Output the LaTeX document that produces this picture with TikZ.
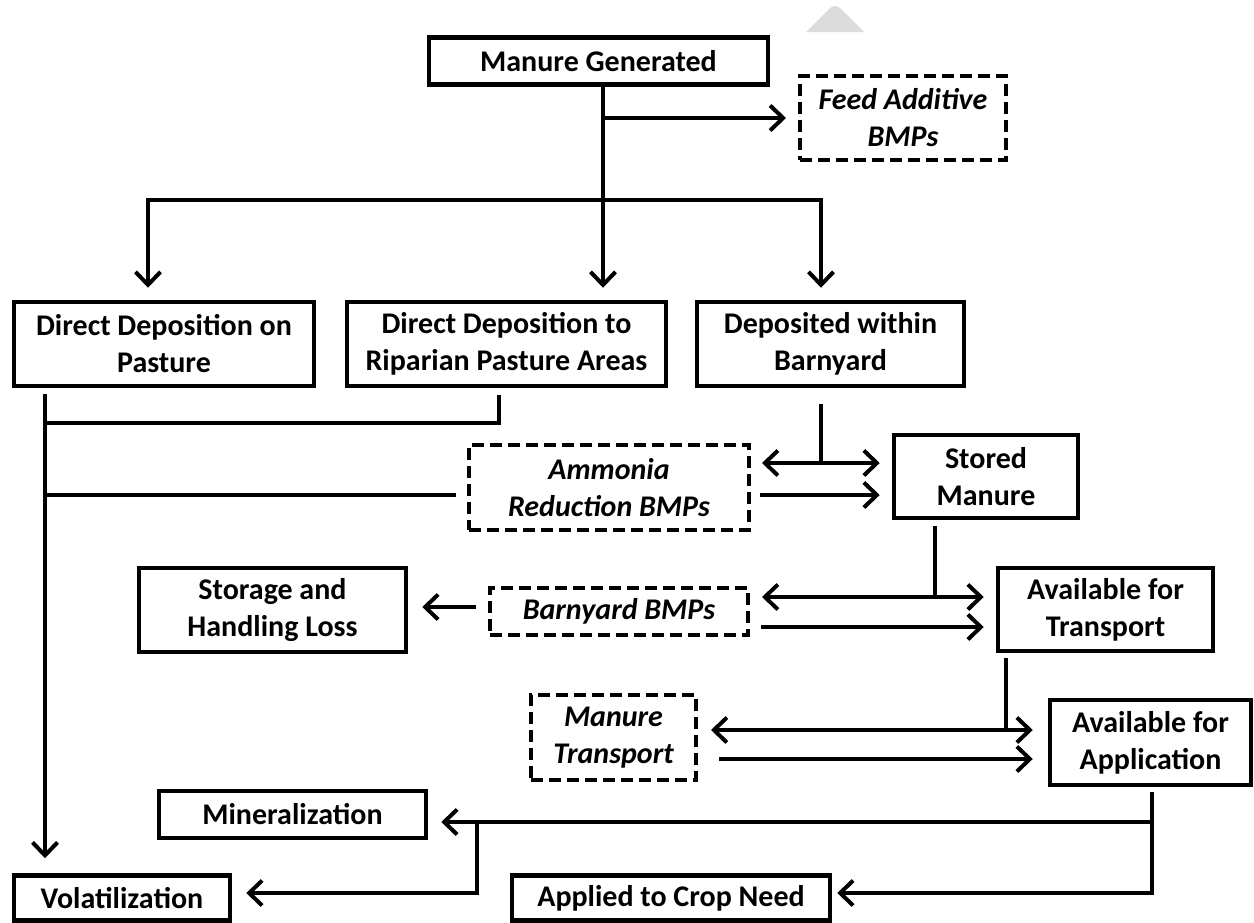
\documentclass[tikz,border=0pt]{standalone}
\usepackage{fontspec}
\setmainfont{Carlito}
\usetikzlibrary{arrows.meta}
\begin{document}
\begin{tikzpicture}[x=1pt,y=-1pt,
  box/.style={draw, line width=4.5pt, inner sep=0pt, align=center,
    font=\fontsize{30}{37}\selectfont\bfseries},
  bmp/.style={box, line width=4pt, dash pattern=on 12pt off 6pt,
    font=\fontsize{30}{37}\selectfont\bfseries\itshape},
  ln/.style={line width=4pt},
  arr/.style={ln, -{Straight Barb[length=13pt,width=25pt]}},
  darr/.style={ln, {Straight Barb[length=13pt,width=25pt]}-{Straight Barb[length=13pt,width=25pt]}},
]
\useasboundingbox (0,0) rectangle (1254,922);
% faint grey mark at the top
\fill[black!14] (806,32) -- (829,9) .. controls (833,5) and (837,5) .. (841,9) -- (864,32) -- cycle;

% nodes
\node[box, minimum width=339pt, minimum height=47pt] (gen) at (598.5,61) {Manure Generated};
\node[bmp, minimum width=206pt, minimum height=84pt] (feed) at (903,118) {Feed Additive\\BMPs};
\node[box, minimum width=300pt, minimum height=84pt] (past) at (164,344) {Direct Deposition on\\Pasture};
\node[box, minimum width=319pt, minimum height=84pt] (rip) at (506.5,344) {Direct Deposition to\\Riparian Pasture Areas};
\node[box, minimum width=267pt, minimum height=84pt] (barn) at (830.5,344) {Deposited within\\Barnyard};
\node[bmp, minimum width=280pt, minimum height=85pt] (amm) at (609,487.5) {Ammonia\\Reduction BMPs};
\node[box, minimum width=184pt, minimum height=83pt] (stored) at (986,476.5) {Stored\\Manure};
\node[box, minimum width=267pt, minimum height=84pt] (storage) at (272.5,610) {Storage and\\Handling Loss};
\node[bmp, minimum width=258pt, minimum height=47pt] (bbmp) at (619,611.5) {Barnyard BMPs};
\node[box, minimum width=215pt, minimum height=83pt] (avt) at (1105.5,609.5) {Available for\\Transport};
\node[bmp, minimum width=165pt, minimum height=85pt] (mt) at (613.5,737.5) {Manure\\Transport};
\node[box, minimum width=201pt, minimum height=85pt] (ava) at (1150.5,742.5) {Available for\\Application};
\node[box, minimum width=267pt, minimum height=47pt] (mineral) at (292.5,814.5) {Mineralization};
\node[box, minimum width=216pt, minimum height=45pt] (vol) at (122,898) {Volatilization};
\node[box, minimum width=318pt, minimum height=45pt] (applied) at (671,898) {Applied to Crop Need};

% helper coordinates
\coordinate (t) at (603,200);
\coordinate (L) at (148,200);
\coordinate (R) at (821,200);
\coordinate (P) at (45,0);
\coordinate (Rj) at (499,423);
\coordinate (Pj) at (45,423);
\coordinate (Ay) at (0,495);
\coordinate (D1) at (0,463);
\coordinate (S) at (935,0);
\coordinate (D2) at (0,597);
\coordinate (E2) at (0,627);
\coordinate (F) at (0,607);
\coordinate (V) at (1006,0);
\coordinate (D3) at (0,730);
\coordinate (E3) at (0,759);
\coordinate (W) at (1152,0);
\coordinate (G1) at (0,822);
\coordinate (G2) at (0,893);
\coordinate (K) at (477,0);

% top distribution
\draw[arr, shorten >=12pt] (gen.south -| t) -- (t |- rip.north);
\draw[arr, shorten >=12pt] (feed.west -| t) -- (feed.west);
\draw[arr, shorten >=12pt] (t) -| (L |- past.north);
\draw[arr, shorten >=12pt] (t) -| (R |- barn.north);

% pasture trunk and riparian join
\draw[arr, shorten <=6pt, shorten >=15pt] (past.south -| P) -- (P |- vol.north);
\draw[ln, shorten <=7pt] (rip.south -| Rj) |- (Pj);
\draw[ln, shorten >=11pt] (P |- Ay) -- (amm.west |- Ay);

% barnyard to stored
\draw[ln, shorten <=16pt] (barn.south -| R) -- (R |- D1);
\draw[darr, shorten <=11pt, shorten >=12pt] (amm.east |- D1) -- (stored.west |- D1);
\draw[arr, shorten <=9pt, shorten >=12pt] (amm.east |- Ay) -- (stored.west |- Ay);

% stored to transport
\draw[ln, shorten <=6pt] (stored.south -| S) -- (S |- D2);
\draw[darr, shorten <=12pt, shorten >=12pt] (bbmp.east |- D2) -- (avt.west |- D2);
\draw[arr, shorten <=11pt, shorten >=12pt] (bbmp.east |- E2) -- (avt.west |- E2);
\draw[arr, shorten <=12pt, shorten >=14pt] (bbmp.west |- F) -- (storage.east |- F);

% transport to application
\draw[ln, shorten <=5pt] (avt.south -| V) -- (V |- D3);
\draw[darr, shorten <=13pt, shorten >=15pt] (mt.east |- D3) -- (ava.west |- D3);
\draw[arr, shorten <=21pt, shorten >=15pt] (mt.east |- E3) -- (ava.west |- E3);

% application outputs
\draw[arr, shorten <=5pt, shorten >=5pt] (ava.south -| W) -- (W |- G2) -- (applied.east |- G2);
\draw[arr, shorten >=13pt] (W |- G1) -- (mineral.east |- G1);
\draw[arr, shorten >=14pt] (K |- G1) |- (vol.east |- G2);
\end{tikzpicture}
\end{document}
